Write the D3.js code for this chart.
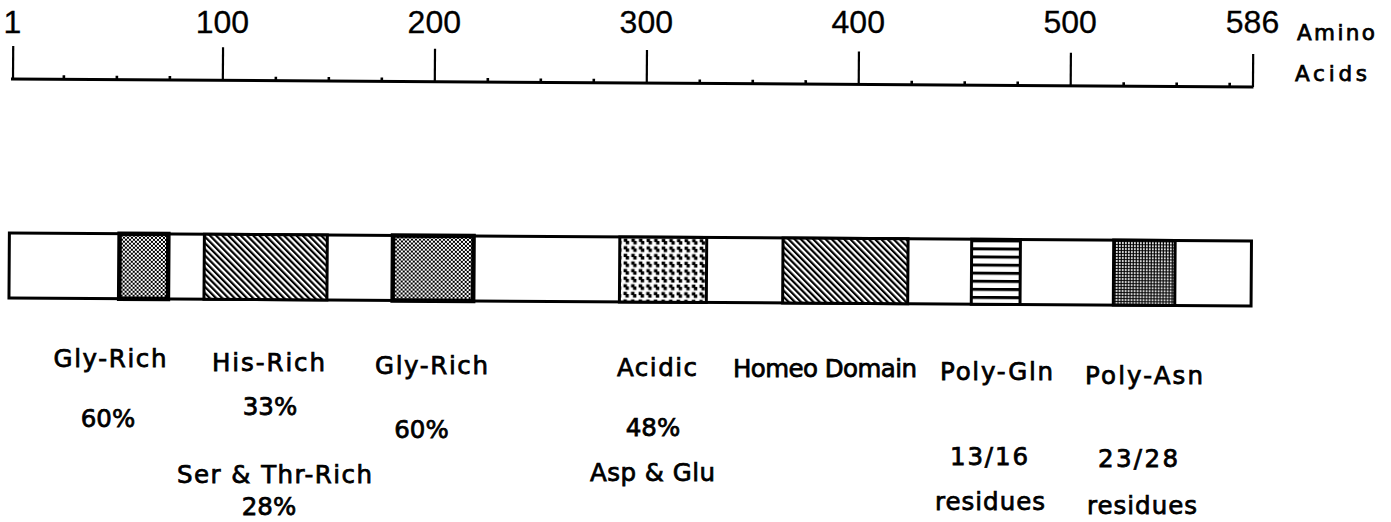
<!DOCTYPE html>
<html>
<head>
<meta charset="utf-8">
<script src="https://cdn.jsdelivr.net/npm/d3@7"></script>
<style>
  html, body { margin: 0; padding: 0; background: #fff; }
  svg { display: block; }
</style>
</head>
<body>
<svg id="chart" width="1391" height="522"></svg>
<script>
// ---------------- DATA ----------------
const proteinLength = 586;
const majorTicks = [1, 100, 200, 300, 400, 500, 586];
const majorTickLabels = ["1", "100", "200", "300", "400", "500", "586"];
const minorTicks = [25, 50, 75, 125, 150, 175, 225, 250, 275, 325, 350, 375, 425, 450, 475, 525, 550, 575];
const axisUnitLines = ["Amino", "Acids"];

// domains along the protein (amino-acid positions)
const segName    = ["Gly-Rich", "His/Ser-Thr-Rich", "Gly-Rich", "Acidic", "Homeo Domain", "Poly-Gln", "Poly-Asn"];
const segStart   = [52, 92, 181, 288, 365, 454, 521];
const segEnd     = [75, 150, 219, 329, 424, 477, 550];
const segPattern = ["checker", "hatch", "checker", "acidic", "hatch", "hstripe", "grid"];

// annotation texts
const labelText = ["Gly-Rich", "60%", "His-Rich", "33%", "Ser & Thr-Rich", "28%",
                   "Gly-Rich", "60%", "Acidic", "48%", "Asp & Glu", "Homeo Domain",
                   "Poly-Gln", "13/16", "residues", "Poly-Asn", "23/28", "residues"];

// ---------------- LAYOUT (pixels) ----------------
const labelCx   = [110, 108, 268.5, 270, 274.5, 269, 431.5, 421.5, 657, 653, 652.5, 825, 996.5, 989, 990, 1144, 1138, 1142];
const labelBase = [367, 427, 370.5, 415, 483, 515, 374, 438, 376, 436, 481, 376.5, 380, 465, 510, 384, 467, 514];
const labelW    = [113, 0, 113, 0, 195, 0, 113, 0, 80, 0, 125, 184, 113, 78, 110, 118, 80, 110]; // 0 = natural width

const axisY = 79, barTop = 233, barH = 65;
const tilt = 0.37; // scan tilt of the original drawing, degrees

const svg = d3.select("#chart");
const x = d3.scaleLinear().domain([1, proteinLength]).range([12.5, 1252.5]);

// ---------------- PATTERNS ----------------
const defs = svg.append("defs");
{
  const p = defs.append("pattern").attr("id", "checker").attr("patternUnits", "userSpaceOnUse")
    .attr("width", 4).attr("height", 4);
  p.append("rect").attr("width", 4).attr("height", 4).attr("fill", "#fff");
  p.append("rect").attr("width", 2).attr("height", 2).attr("fill", "#000");
  p.append("rect").attr("x", 2).attr("y", 2).attr("width", 2).attr("height", 2).attr("fill", "#000");
}
{
  const p = defs.append("pattern").attr("id", "hatch").attr("patternUnits", "userSpaceOnUse")
    .attr("width", 4.4).attr("height", 4.4).attr("patternTransform", "rotate(-45)");
  p.append("rect").attr("width", 4.4).attr("height", 4.4).attr("fill", "#fff");
  p.append("rect").attr("width", 2.2).attr("height", 4.4).attr("fill", "#000");
}
{
  const T = 7.6;
  const p = defs.append("pattern").attr("id", "acidic").attr("patternUnits", "userSpaceOnUse")
    .attr("width", T).attr("height", T).attr("x", 1).attr("y", barTop + 1);
  p.append("rect").attr("width", T).attr("height", T).attr("fill", "#fff");
  p.append("rect").attr("x", 0.6).attr("y", 0.6).attr("width", 3.5).attr("height", 3.3).attr("fill", "#000");
  p.append("rect").attr("x", 2.6).attr("y", 2.9).attr("width", 3.4).attr("height", 3.4).attr("fill", "#000");
}
{
  const p = defs.append("pattern").attr("id", "hstripe").attr("patternUnits", "userSpaceOnUse")
    .attr("width", 10).attr("height", 8.1).attr("y", barTop);
  p.append("rect").attr("width", 10).attr("height", 8.1).attr("fill", "#fff");
  p.append("rect").attr("width", 10).attr("height", 3).attr("fill", "#000");
}
{
  const p = defs.append("pattern").attr("id", "grid").attr("patternUnits", "userSpaceOnUse")
    .attr("width", 3).attr("height", 3);
  p.append("rect").attr("width", 3).attr("height", 3).attr("fill", "#000");
  p.append("rect").attr("x", 1).attr("y", 1).attr("width", 1.8).attr("height", 1.8).attr("fill", "#fff");
}

// ---------------- TILTED DRAWING (axis + bar) ----------------
const fig = svg.append("g").attr("transform", `rotate(${tilt}, ${x(1)}, ${axisY})`);

// minor ticks
const minorAxis = fig.append("g").attr("transform", `translate(0,${axisY})`)
  .call(d3.axisTop(x).tickValues(minorTicks).tickSize(4).tickSizeOuter(0).tickFormat(""));
minorAxis.select(".domain").remove();
minorAxis.selectAll(".tick line").attr("stroke", "#000").attr("stroke-width", 2.6);

// major ticks + axis line
const majorAxis = fig.append("g").attr("transform", `translate(0,${axisY})`)
  .call(d3.axisTop(x).tickValues(majorTicks).tickSize(33).tickSizeOuter(0).tickFormat(""));
majorAxis.select(".domain").attr("stroke", "#000").attr("stroke-width", 3)
  .attr("d", `M${x(1) - 1.5},0H${x(proteinLength) + 1}`);
majorAxis.selectAll(".tick line").attr("stroke", "#000").attr("stroke-width", 2.2);

// protein bar outline (residue 0..586 as interval edges)
fig.append("rect")
  .attr("x", x(0)).attr("y", barTop)
  .attr("width", x(proteinLength) - x(0)).attr("height", barH)
  .attr("fill", "#fff").attr("stroke", "#000").attr("stroke-width", 3);

// domain boxes
fig.selectAll("rect.seg").data(segName.map((n, i) => ({ n, s: segStart[i], e: segEnd[i], p: segPattern[i] })))
  .join("rect").attr("class", "seg")
  .attr("x", d => x(d.s)).attr("y", barTop)
  .attr("width", d => x(d.e) - x(d.s)).attr("height", barH)
  .attr("fill", d => `url(#${d.p})`)
  .attr("stroke", "#000")
  .attr("stroke-width", d => d.p === "checker" ? 4.5 : 3);

// ---------------- TEXT (horizontal, as typed) ----------------
const tickFont = "'Liberation Sans', Arial, sans-serif";
const labFont = "'DejaVu Sans', sans-serif";

svg.append("g").selectAll("text").data(majorTicks)
  .join("text")
  .attr("x", d => x(d)).attr("y", 33)
  .attr("text-anchor", "middle")
  .attr("font-family", tickFont).attr("font-size", 32)
  .attr("fill", "#000").attr("stroke", "#000").attr("stroke-width", 0.3)
  .text((d, i) => majorTickLabels[i]);

const unitY = [40, 81], unitX = [1297, 1295], unitW = [78, 72];
svg.append("g").selectAll("text").data(axisUnitLines)
  .join("text")
  .attr("x", (d, i) => unitX[i]).attr("y", (d, i) => unitY[i])
  .attr("font-family", labFont).attr("font-size", 21.5)
  .attr("fill", "#000").attr("stroke", "#000").attr("stroke-width", 0.75)
  .attr("textLength", (d, i) => unitW[i]).attr("lengthAdjust", "spacing")
  .text(d => d);

svg.append("g").selectAll("text").data(labelText)
  .join("text")
  .attr("x", (d, i) => labelCx[i]).attr("y", (d, i) => labelBase[i])
  .attr("text-anchor", "middle")
  .attr("font-family", labFont).attr("font-size", 24.5)
  .attr("fill", "#000").attr("stroke", "#000").attr("stroke-width", 0.75)
  .each(function (d, i) {
    if (labelW[i] > 0) d3.select(this).attr("textLength", labelW[i]).attr("lengthAdjust", "spacing");
  })
  .text(d => d);
</script>
</body>
</html>
